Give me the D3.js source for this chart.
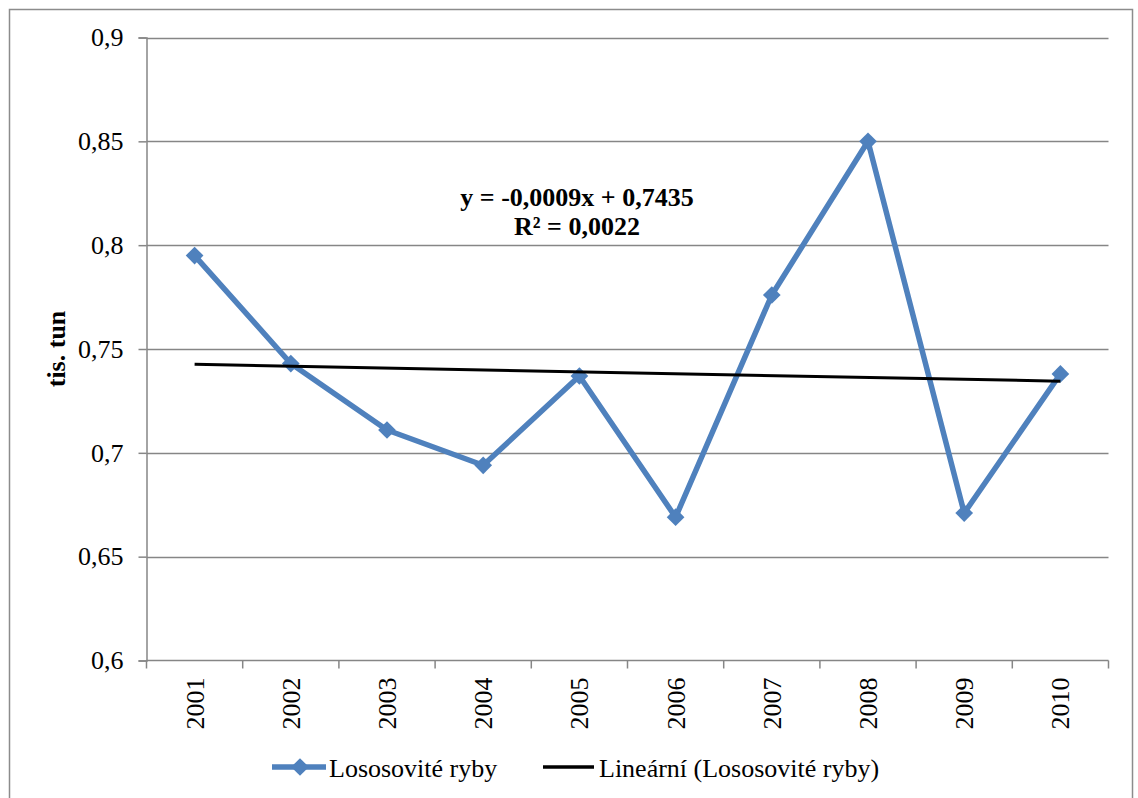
<!DOCTYPE html>
<html>
<head>
<meta charset="utf-8">
<script src="https://cdn.jsdelivr.net/npm/d3@7"></script>
<style>
  html, body { margin: 0; padding: 0; background: #fff; }
  svg { display: block; }
  text { font-family: "Liberation Serif", "Times New Roman", serif; fill: #000; }
</style>
</head>
<body>
<svg id="chart" width="1138" height="798"></svg>
<script>
// Roční úlovky lososovitých ryb (tis. tun)
const years = ["2001", "2002", "2003", "2004", "2005", "2006", "2007", "2008", "2009", "2010"];
const values = [0.795, 0.743, 0.711, 0.694, 0.737, 0.669, 0.776, 0.850, 0.671, 0.738];
const yTicks = [0.6, 0.65, 0.7, 0.75, 0.8, 0.85, 0.9];
const trendSlope = -0.0009;
const trendIntercept = 0.7435;
const seriesName = "Lososovité ryby";
const trendName = "Lineární (Lososovité ryby)";
const equationLines = ["y = -0,0009x + 0,7435", "R² = 0,0022"];

const svg = d3.select("#chart");
const plot = { left: 146.5, top: 37.5, right: 1108.5, bottom: 660.5 };
const gridColor = "#868686";
const seriesColor = "#4F81BD";
const fs = 26;

// outer chart frame
svg.append("rect")
  .attr("x", 9.5).attr("y", 9.5)
  .attr("width", 1123).attr("height", 800)
  .attr("fill", "#fff").attr("stroke", "#8c8c8c").attr("stroke-width", 1.5);

const x = d3.scaleBand().domain(years).range([plot.left, plot.right]).padding(0);
const y = d3.scaleLinear().domain([0.6, 0.9]).range([plot.bottom, plot.top]);
const fmt = v => String(+v.toFixed(2)).replace(".", ",");

// horizontal gridlines
svg.append("g")
  .selectAll("line").data(yTicks.slice(1)).join("line")
  .attr("x1", plot.left).attr("x2", plot.right)
  .attr("y1", d => Math.round(y(d)) + 0.5).attr("y2", d => Math.round(y(d)) + 0.5)
  .attr("stroke", gridColor).attr("stroke-width", 1.5);

// y axis
const yAxis = svg.append("g")
  .attr("transform", `translate(${plot.left},0)`)
  .call(d3.axisLeft(y).tickValues(yTicks).tickSize(8).tickPadding(15).tickFormat(fmt));
yAxis.select(".domain").attr("stroke", gridColor).attr("stroke-width", 1.5);
yAxis.selectAll(".tick line").attr("stroke", gridColor).attr("stroke-width", 1.5);
yAxis.selectAll(".tick text")
  .attr("font-size", fs).attr("font-family", "Liberation Serif, serif").attr("fill", "#000");

// x axis with ticks on category boundaries
const xAxisG = svg.append("g").attr("transform", `translate(0,${plot.bottom})`);
xAxisG.append("line")
  .attr("x1", plot.left).attr("x2", plot.right)
  .attr("stroke", gridColor).attr("stroke-width", 1.5);
const boundaries = years.map(d => x(d)).concat([x(years[years.length - 1]) + x.bandwidth()]);
xAxisG.selectAll("line.tk").data(boundaries).join("line").attr("class", "tk")
  .attr("x1", d => d).attr("x2", d => d).attr("y1", 0).attr("y2", 8)
  .attr("stroke", gridColor).attr("stroke-width", 1.5);
xAxisG.selectAll("text").data(years).join("text")
  .attr("transform", d => `translate(${x(d) + x.bandwidth() / 2 + 9},17) rotate(-90)`)
  .attr("text-anchor", "end")
  .attr("font-size", fs)
  .text(d => d);

// y axis title
svg.append("text")
  .attr("transform", `translate(65,${(plot.top + plot.bottom) / 2}) rotate(-90)`)
  .attr("text-anchor", "middle")
  .attr("font-size", fs).attr("font-weight", "bold")
  .text("tis. tun");

// data series
const cx = d => x(d) + x.bandwidth() / 2;
const pts = years.map((d, i) => [cx(d), y(values[i])]);
svg.append("path")
  .attr("d", d3.line()(pts))
  .attr("fill", "none").attr("stroke", seriesColor).attr("stroke-width", 5.5)
  .attr("stroke-linejoin", "round");

const diamond = d3.symbol().type(d3.symbolDiamond2).size(200);
svg.append("g").selectAll("path").data(pts).join("path")
  .attr("transform", d => `translate(${d[0]},${d[1]})`)
  .attr("d", diamond)
  .attr("fill", seriesColor);

// linear trendline
const t0 = trendSlope * 1 + trendIntercept;
const t1 = trendSlope * years.length + trendIntercept;
svg.append("line")
  .attr("x1", cx(years[0])).attr("y1", y(t0))
  .attr("x2", cx(years[years.length - 1])).attr("y2", y(t1))
  .attr("stroke", "#000").attr("stroke-width", 3);

// equation label
const eq = svg.append("text")
  .attr("text-anchor", "middle").attr("font-size", fs).attr("font-weight", "bold");
equationLines.forEach((t, i) => {
  eq.append("tspan").attr("x", 577).attr("y", 206 + i * 29).text(t);
});

// legend
const legY = 767;
const leg = svg.append("g");
leg.append("line").attr("x1", 272).attr("x2", 326).attr("y1", legY).attr("y2", legY)
  .attr("stroke", seriesColor).attr("stroke-width", 5.5);
leg.append("path").attr("transform", `translate(300,${legY})`).attr("d", diamond).attr("fill", seriesColor);
leg.append("text").attr("x", 329).attr("y", legY + 10).attr("font-size", fs).text(seriesName);
leg.append("line").attr("x1", 543).attr("x2", 594).attr("y1", legY).attr("y2", legY)
  .attr("stroke", "#000").attr("stroke-width", 3.5);
leg.append("text").attr("x", 599).attr("y", legY + 10).attr("font-size", fs).text(trendName);
</script>
</body>
</html>
